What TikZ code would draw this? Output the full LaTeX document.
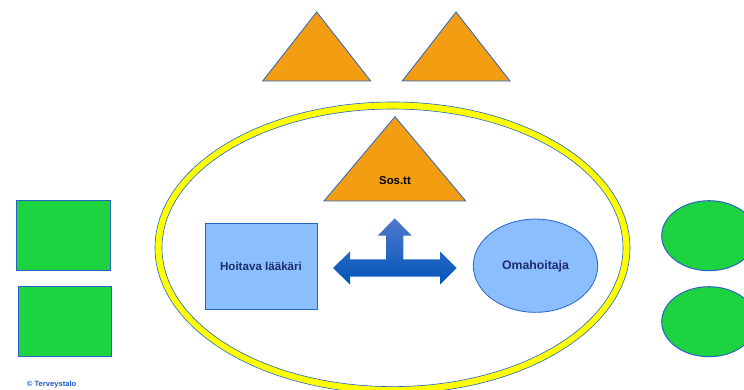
\documentclass[tikz,border=0pt]{standalone}
\usepackage{fontspec}
\setmainfont{Liberation Sans}
\usetikzlibrary{shapes.geometric}
\definecolor{orng}{RGB}{243,158,18}
\definecolor{grn}{RGB}{29,211,63}
\definecolor{lblue}{RGB}{138,190,255}
\definecolor{edge}{RGB}{40,100,200}
\definecolor{navy}{RGB}{30,45,105}
\definecolor{arrowdark}{RGB}{0,85,185}
\definecolor{arrowlight}{RGB}{80,120,205}
\definecolor{ring}{RGB}{255,255,0}
\definecolor{copyc}{RGB}{30,90,200}
\tikzset{
  tri/.style={draw=edge, line width=0.8pt, fill=orng},
  greenbox/.style={draw=edge, line width=1pt, fill=grn},
  lbl/.style={font=\bfseries, text=navy, inner sep=0pt},
}
\begin{document}
\begin{tikzpicture}[x=1pt,y=-1pt]
\useasboundingbox (0,0) rectangle (744,390);
% top triangles
\filldraw[tri] (316.7,12) -- (370.7,81) -- (262.7,81) -- cycle;
\filldraw[tri] (456,12) -- (510,81) -- (402.3,81) -- cycle;
% green rectangles
\filldraw[greenbox] (16.7,201) rectangle (110,270.7);
\filldraw[greenbox] (18.3,286.7) rectangle (111.7,356.7);
% green ellipses
\filldraw[greenbox] (709,235.7) ellipse [x radius=47.3, y radius=35];
\filldraw[greenbox] (709,321.7) ellipse [x radius=47.3, y radius=35];
% yellow ring
\draw[ring, line width=7pt] (392.5,247.8) ellipse [x radius=234, y radius=142.3];
\draw[edge, line width=0.6pt] (392.5,247.8) ellipse [x radius=237.5, y radius=145.8];
\draw[edge, line width=0.6pt] (392.5,247.8) ellipse [x radius=230.5, y radius=138.8];
% Sos.tt triangle
\filldraw[tri] (395,116.7) -- (465.7,201) -- (324,201) -- cycle;
\node[lbl, text=black, font=\bfseries\fontsize{11.4}{13}\selectfont] (sos) at (395,181) {Sos.tt};
% Hoitava laakari
\node[draw=edge, line width=0.8pt, fill=lblue, minimum width=111.7pt, minimum height=86.3pt, inner sep=0pt, anchor=north west] (hl) at (205.3,222.7) {};
\node[lbl, font=\bfseries\fontsize{11.6}{13}\selectfont] (hltext) at (261,266) {Hoitava lääkäri};
% Omahoitaja
\node[ellipse, draw=edge, line width=0.8pt, fill=lblue, minimum width=124.4pt, minimum height=93.3pt, inner sep=0pt] (oh) at (535.5,265.7) {};
\node[lbl, font=\bfseries\fontsize{12.3}{14}\selectfont] (ohtext) at (535.5,266.5) {Omahoitaja};
% three-way arrow
\shade[top color=arrowlight, middle color=arrowdark, bottom color=arrowdark, shading angle=0]
  (333,268) -- (350,251.5) -- (350,259.3) -- (386,259.3) -- (386,235.7) -- (377.7,235.7)
  -- (394.7,218.3) -- (411.7,235.7) -- (403.3,235.7) -- (403.3,259.3) -- (440,259.3)
  -- (440,251.5) -- (456.7,268) -- (440,284.5) -- (440,276.7) -- (350,276.7)
  -- (350,284.5) -- cycle;
% copyright
\node[font=\bfseries\fontsize{7.6}{9}\selectfont, text=copyc, inner sep=0pt, anchor=west] (copy) at (26.7,384.5) {© Terveystalo};
\end{tikzpicture}
\end{document}
